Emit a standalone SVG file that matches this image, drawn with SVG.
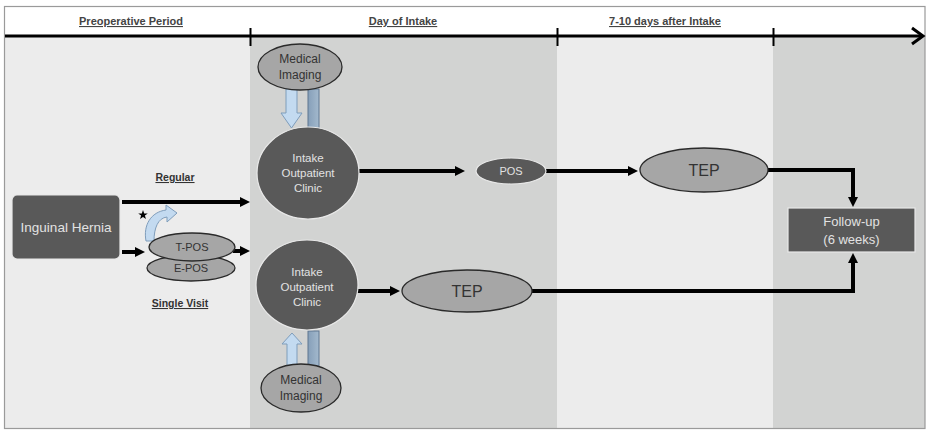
<svg xmlns="http://www.w3.org/2000/svg" width="928" height="430" viewBox="0 0 928 430">
<style>
.hdr{font-family:"Liberation Sans",Arial,sans-serif;font-size:11px;font-weight:bold;fill:#444;text-anchor:middle;text-decoration:underline}
.lbl{font-family:"Liberation Sans",Arial,sans-serif;font-size:10.5px;font-weight:bold;fill:#333;text-anchor:middle;text-decoration:underline}
.dark{fill:#595959;stroke:#e8e8e8;stroke-width:1.2}
.mid{fill:#a6a6a6;stroke:#2a2a2a;stroke-width:1.3}
.tw{font-family:"Liberation Sans",Arial,sans-serif;fill:#e2e2e2;text-anchor:middle}
.tk{font-family:"Liberation Sans",Arial,sans-serif;fill:#333;text-anchor:middle}
.conn{fill:none;stroke:#000;stroke-width:4}
.blue{fill:#c3daf0;stroke:#7f9dbb;stroke-width:1}
.bar{fill:url(#barg);stroke:#5f7690;stroke-width:1}
</style>
<defs>
<marker id="ah" markerUnits="userSpaceOnUse" markerWidth="11" markerHeight="11" refX="0" refY="5" orient="auto">
<path d="M0,0 L10,5 L0,10 z" fill="#000"/>
</marker>
<linearGradient id="barg" x1="0" y1="0" x2="1" y2="0">
<stop offset="0" stop-color="#869fb9"/>
<stop offset="1" stop-color="#a3b9cd"/>
</linearGradient>
</defs>

<g id="background">
<rect x="0" y="0" width="928" height="430" fill="#fff"/>
<rect x="5" y="37" width="245" height="391" fill="#ececec"/>
<rect x="250" y="37" width="307" height="391" fill="#d2d3d2"/>
<rect x="557" y="37" width="216" height="391" fill="#ececec"/>
<rect x="773" y="37" width="152" height="391" fill="#d2d3d2"/>
<rect x="4.5" y="6.5" width="920.5" height="422" fill="none" stroke="#9a9a9a" stroke-width="1.2"/>
</g>

<g id="timeline">
<line x1="5" y1="36" x2="921" y2="36" stroke="#000" stroke-width="3"/>
<polyline points="912,28 923,36 912,44" fill="none" stroke="#000" stroke-width="3"/>
<line x1="250.5" y1="28" x2="250.5" y2="46" stroke="#000" stroke-width="2"/>
<line x1="557.5" y1="28" x2="557.5" y2="46" stroke="#000" stroke-width="2"/>
<line x1="773.5" y1="28" x2="773.5" y2="46" stroke="#000" stroke-width="2"/>
<text class="hdr" x="131" y="25">Preoperative Period</text>
<text class="hdr" x="403" y="25">Day of Intake</text>
<text class="hdr" x="665" y="25">7-10 days after Intake</text>
</g>

<g id="connectors">
<path class="conn" d="M122,202 H240" marker-end="url(#ah)"/>
<path class="conn" d="M122,252 H135" marker-end="url(#ah)"/>
<path class="conn" d="M233,251 H240" marker-end="url(#ah)"/>
<path class="conn" d="M359,171 H455" marker-end="url(#ah)"/>
<path class="conn" d="M546,171 H628" marker-end="url(#ah)"/>
<path class="conn" d="M768,170 H853 V197" marker-end="url(#ah)"/>
<path class="conn" d="M357,291 H390" marker-end="url(#ah)"/>
<path class="conn" d="M532,291 H853 V263" marker-end="url(#ah)"/>
<path class="blue" d="M146,241 C143,225 151,212 166,210 L166,205 L177,213 L167,222 L167,217 C158,218 154,228 154,241 Z"/>
<path class="blue" d="M286,89 H297 V113 H302 L291.5,128 L281,113 H286 Z"/>
<rect class="bar" x="308" y="89" width="11" height="39"/>
<path class="blue" d="M287,366 V344 H282 L292,333 L302,344 H297 V366 Z"/>
<rect class="bar" x="308" y="331" width="11" height="35"/>
</g>

<g id="star">
<polygon points="143,210 144.18,213.38 147.76,213.45 144.9,215.62 145.94,219.05 143,217 140.06,219.05 141.1,215.62 138.24,213.45 141.82,213.38" fill="#000"/>
</g>

<g id="labels">
<text class="lbl" x="175" y="181">Regular</text>
<text class="lbl" x="180" y="307">Single Visit</text>
</g>

<g id="inguinal-hernia">
<rect class="dark" x="12" y="195" width="108" height="64" rx="5"/>
<text class="tw" x="66" y="232" font-size="13.5">Inguinal Hernia</text>
</g>

<g id="e-pos">
<ellipse class="mid" cx="191" cy="268" rx="44" ry="13"/>
<text class="tk" x="191" y="272" font-size="11">E-POS</text>
</g>

<g id="t-pos">
<ellipse class="mid" cx="192" cy="247" rx="43" ry="14"/>
<text class="tk" x="192" y="251" font-size="11">T-POS</text>
</g>

<g id="imaging-top">
<ellipse class="mid" cx="300" cy="67" rx="42" ry="23"/>
<text class="tk" x="300" y="63" font-size="12">Medical</text>
<text class="tk" x="300" y="79" font-size="12">Imaging</text>
</g>

<g id="clinic-top">
<ellipse class="dark" cx="308" cy="173" rx="51" ry="46"/>
<text class="tw" x="308" y="162" font-size="11.5">Intake</text>
<text class="tw" x="308" y="177" font-size="11.5">Outpatient</text>
<text class="tw" x="308" y="192" font-size="11.5">Clinic</text>
</g>

<g id="clinic-bottom">
<ellipse class="dark" cx="307" cy="285" rx="51" ry="45"/>
<text class="tw" x="307" y="276" font-size="11.5">Intake</text>
<text class="tw" x="307" y="291" font-size="11.5">Outpatient</text>
<text class="tw" x="307" y="306" font-size="11.5">Clinic</text>
</g>

<g id="imaging-bottom">
<ellipse class="mid" cx="301" cy="388" rx="40" ry="24"/>
<text class="tk" x="301" y="384" font-size="12">Medical</text>
<text class="tk" x="301" y="400" font-size="12">Imaging</text>
</g>

<g id="pos">
<ellipse class="dark" cx="511" cy="171" rx="35" ry="13"/>
<text class="tw" x="511" y="175" font-size="11">POS</text>
</g>

<g id="tep-top">
<ellipse class="mid" cx="704" cy="170" rx="64" ry="22"/>
<text class="tk" x="704" y="176" font-size="16">TEP</text>
</g>

<g id="tep-bottom">
<ellipse class="mid" cx="467" cy="291" rx="65" ry="21"/>
<text class="tk" x="467" y="297" font-size="16">TEP</text>
</g>

<g id="follow-up">
<rect class="dark" x="788" y="208" width="127" height="44"/>
<text class="tw" x="851.5" y="226" font-size="13">Follow-up</text>
<text class="tw" x="851.5" y="244" font-size="13">(6 weeks)</text>
</g>
</svg>
